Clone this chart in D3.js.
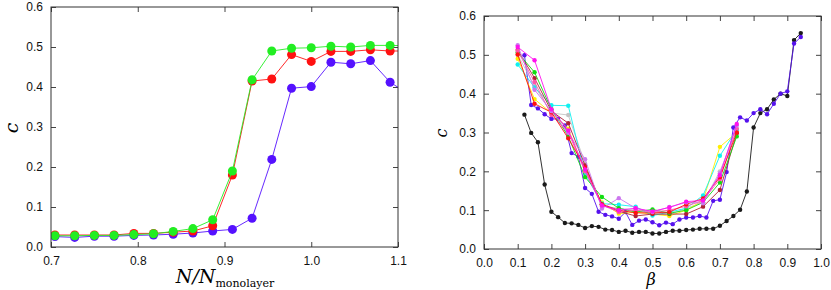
<!DOCTYPE html>
<html>
<head>
<meta charset="utf-8">
<script src="https://cdn.jsdelivr.net/npm/d3@7"></script>
<style>
body { margin:0; background:#fff; }
svg { display:block; font-family: "Liberation Sans", Arial, sans-serif; }
.tick text { font-size:12px; fill:#111; }
.domain { display:none; }
.tick line { stroke:#444; }
</style>
</head>
<body>
<svg id="chart" width="831" height="290"></svg>
<script>
// left panel: c vs N/N_monolayer
var nRatio = [0.7045, 0.7273, 0.75, 0.7727, 0.7955, 0.8182, 0.8409, 0.8636, 0.8864, 0.9091,
              0.9318, 0.9545, 0.9773, 1.0, 1.0227, 1.0455, 1.0682, 1.0909, 1.1136];
var cGreen = [0.028, 0.028, 0.029, 0.029, 0.031, 0.033, 0.039, 0.046, 0.068, 0.19,
              0.418, 0.49, 0.497, 0.498, 0.502, 0.5, 0.504, 0.504, 0.503];
var cRed   = [0.03, 0.03, 0.03, 0.03, 0.034, 0.034, 0.037, 0.04, 0.053, 0.18,
              0.415, 0.42, 0.481, 0.464, 0.489, 0.489, 0.493, 0.49, 0.49];
var cBlue  = [0.026, 0.024, 0.027, 0.027, 0.029, 0.03, 0.032, 0.035, 0.04, 0.044,
              0.072, 0.219, 0.397, 0.401, 0.462, 0.458, 0.466, 0.412, 0.38];
var leftXTicks = [0.7, 0.8, 0.9, 1.0, 1.1];
var cTicks = [0, 0.1, 0.2, 0.3, 0.4, 0.5, 0.6];

// right panel: c vs beta
var betaFine = [0.12, 0.14, 0.16, 0.18, 0.20, 0.22, 0.24, 0.26, 0.28, 0.30, 0.32, 0.34, 0.36, 0.38,
                0.40, 0.42, 0.44, 0.46, 0.48, 0.50, 0.52, 0.54, 0.56, 0.58, 0.60, 0.62, 0.64, 0.66,
                0.68, 0.70, 0.72, 0.74, 0.76, 0.78, 0.80, 0.82, 0.84, 0.86, 0.88, 0.90, 0.92, 0.94];
var cBlack = [0.346, 0.299, 0.275, 0.166, 0.096, 0.082, 0.067, 0.066, 0.062, 0.054, 0.059, 0.057, 0.05, 0.049,
              0.044, 0.047, 0.042, 0.044, 0.044, 0.04, 0.04, 0.044, 0.047, 0.047, 0.049, 0.05, 0.052, 0.052,
              0.052, 0.06, 0.072, 0.085, 0.101, 0.148, 0.313, 0.35, 0.36, 0.385, 0.4, 0.394, 0.538, 0.556];
var cViolet = [0.499, 0.371, 0.362, 0.347, 0.335, 0.335, 0.318, 0.247, 0.238, 0.157, 0.142, 0.096, 0.088, 0.084,
               0.078, 0.095, 0.062, 0.073, 0.076, 0.069, 0.061, 0.068, 0.064, 0.076, 0.081, 0.081, 0.085, 0.081,
               0.124, 0.127, 0.198, 0.313, 0.339, 0.331, 0.35, 0.36, 0.347, 0.374, 0.4, 0.406, 0.529, 0.546];
var betaCoarse = [0.10, 0.15, 0.20, 0.25, 0.30, 0.35, 0.40, 0.45, 0.50, 0.55, 0.60, 0.65, 0.70, 0.75];
var cMagenta = [0.52, 0.486, 0.36, 0.305, 0.205, 0.112, 0.10, 0.105, 0.097, 0.107, 0.122, 0.125, 0.19, 0.322];
var cOrchid  = [0.525, 0.41, 0.355, 0.30, 0.231, 0.104, 0.131, 0.105, 0.095, 0.108, 0.12, 0.118, 0.195, 0.318];
var cGreen2  = [0.506, 0.455, 0.36, 0.29, 0.185, 0.134, 0.105, 0.095, 0.102, 0.092, 0.10, 0.12, 0.171, 0.29];
var cRed2    = [0.501, 0.374, 0.352, 0.285, 0.21, 0.115, 0.10, 0.093, 0.093, 0.095, 0.115, 0.13, 0.185, 0.30];
var cDarkRed = [0.513, 0.44, 0.355, 0.324, 0.215, 0.115, 0.097, 0.085, 0.09, 0.09, 0.09, 0.109, 0.152, 0.298];
var cYellow  = [0.49, 0.386, 0.35, 0.31, 0.2, 0.12, 0.091, 0.095, 0.09, 0.085, 0.1, 0.125, 0.263, 0.30];
var cCyan    = [0.475, 0.416, 0.37, 0.369, 0.193, 0.117, 0.114, 0.109, 0.086, 0.095, 0.105, 0.138, 0.24, 0.308];
var cGrey    = [0.5, 0.42, 0.35, 0.345, 0.22, 0.11, 0.105, 0.1, 0.09, 0.088, 0.105, 0.12, 0.2, 0.305];
var cPink    = [0.51, 0.43, 0.345, 0.3, 0.2, 0.113, 0.095, 0.1, 0.095, 0.1, 0.11, 0.125, 0.18, 0.31];
var betaTicks = [0, 0.1, 0.2, 0.3, 0.4, 0.5, 0.6, 0.7, 0.8, 0.9, 1.0];

var svg = d3.select('#chart');

function panel(id, box, xDomain, xTicks, series, r){
    var x = d3.scaleLinear().domain(xDomain).range([box.x, box.x + box.w]);
    var y = d3.scaleLinear().domain([0, 0.6]).range([box.y + box.h, box.y]);

    svg.append('clipPath').attr('id', id)
      .append('rect').attr('x', box.x).attr('y', box.y).attr('width', box.w).attr('height', box.h);

    var f1 = d3.format('.1f');
    svg.append('g').attr('transform', 'translate(0,' + (box.y + box.h) + ')')
      .call(d3.axisBottom(x).tickValues(xTicks).tickSize(-5).tickPadding(9).tickFormat(f1));
    svg.append('g').attr('transform', 'translate(0,' + box.y + ')')
      .call(d3.axisTop(x).tickValues(xTicks).tickSize(-5).tickFormat(''));
    svg.append('g').attr('transform', 'translate(' + box.x + ',0)')
      .call(d3.axisLeft(y).tickValues(cTicks).tickSize(-5).tickPadding(8).tickFormat(f1));
    svg.append('g').attr('transform', 'translate(' + (box.x + box.w) + ',0)')
      .call(d3.axisRight(y).tickValues(cTicks).tickSize(-5).tickFormat(''));

    var g = svg.append('g').attr('clip-path', 'url(#' + id + ')');
    var line = d3.line().x(function(d){ return x(d[0]); }).y(function(d){ return y(d[1]); });
    series.forEach(function(s){
        var pts = s.xs.map(function(v, i){ return [v, s.ys[i]]; });
        g.append('path').datum(pts).attr('d', line)
          .attr('fill', 'none').attr('stroke', s.color).attr('stroke-width', 0.9);
        g.selectAll(null).data(pts).enter().append('circle')
          .attr('cx', function(d){ return x(d[0]); })
          .attr('cy', function(d){ return y(d[1]); })
          .attr('r', r).attr('fill', s.color);
    });

    svg.append('rect').attr('x', box.x).attr('y', box.y).attr('width', box.w).attr('height', box.h)
      .attr('fill', 'none').attr('stroke', '#333').attr('stroke-width', 1);
}

panel('clipL', {x: 51, y: 7, w: 347, h: 240}, [0.7, 1.1], leftXTicks, [
    {xs: nRatio, ys: cBlue, color: '#5511ff'},
    {xs: nRatio, ys: cRed, color: '#ff1111'},
    {xs: nRatio, ys: cGreen, color: '#22ee22'}
], 4.5);

panel('clipR', {x: 484, y: 16, w: 337, h: 233}, [0, 1], betaTicks, [
    {xs: betaFine, ys: cBlack, color: '#1a1a1a'},
    {xs: betaFine, ys: cViolet, color: '#5511ee'},
    {xs: betaCoarse, ys: cGrey, color: '#c4c4c4'},
    {xs: betaCoarse, ys: cYellow, color: '#ffee00'},
    {xs: betaCoarse, ys: cCyan, color: '#11f0f0'},
    {xs: betaCoarse, ys: cDarkRed, color: '#b02035'},
    {xs: betaCoarse, ys: cGreen2, color: '#11dd11'},
    {xs: betaCoarse, ys: cPink, color: '#ff55aa'},
    {xs: betaCoarse, ys: cRed2, color: '#ff1111'},
    {xs: betaCoarse, ys: cOrchid, color: '#cc77ee'},
    {xs: betaCoarse, ys: cMagenta, color: '#ff11ee'}
], 2.2);

// axis labels
svg.append('text').attr('transform', 'translate(18,128) rotate(-90)')
  .attr('text-anchor', 'middle').style('font-family', '"DejaVu Serif", serif')
  .style('font-style', 'italic').style('font-size', '19px').text('c');
var xl = svg.append('text').attr('x', 225).attr('y', 283).attr('text-anchor', 'middle')
  .style('font-family', '"DejaVu Serif", serif').style('font-size', '19px');
xl.append('tspan').style('font-style', 'italic').text('N/N');
xl.append('tspan').attr('dy', 4).style('font-size', '11px').text('monolayer');

svg.append('text').attr('transform', 'translate(447,133) rotate(-90)')
  .attr('text-anchor', 'middle').style('font-family', '"DejaVu Serif", serif')
  .style('font-style', 'italic').style('font-size', '16px').text('c');
svg.append('text').attr('x', 651).attr('y', 285).attr('text-anchor', 'middle')
  .style('font-family', '"DejaVu Serif", serif').style('font-style', 'italic')
  .style('font-size', '16px').text('β');
</script>
</body>
</html>
